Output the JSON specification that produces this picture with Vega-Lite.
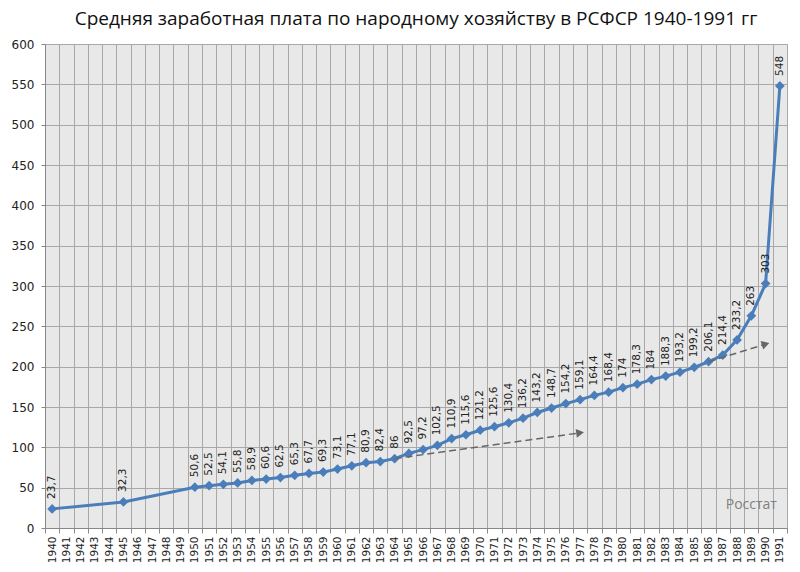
{
  "$schema": "https://vega.github.io/schema/vega-lite/v6.json",
  "autosize": {"type": "none"},
  "padding": {"left": 45, "top": 44, "right": 13, "bottom": 44},
  "width": 742,
  "height": 484,
  "title": {
    "text": "Средняя заработная плата по народному хозяйству в РСФСР 1940-1991 гг",
    "font": "Open Sans",
    "fontSize": 19,
    "fontWeight": "normal",
    "color": "#111111",
    "anchor": "middle",
    "offset": 9
  },
  "data": {
    "values": [
      {"year": 1940, "wage": 23.7},
      {"year": 1945, "wage": 32.3},
      {"year": 1950, "wage": 50.6},
      {"year": 1951, "wage": 52.5},
      {"year": 1952, "wage": 54.1},
      {"year": 1953, "wage": 55.8},
      {"year": 1954, "wage": 58.9},
      {"year": 1955, "wage": 60.6},
      {"year": 1956, "wage": 62.5},
      {"year": 1957, "wage": 65.3},
      {"year": 1958, "wage": 67.7},
      {"year": 1959, "wage": 69.3},
      {"year": 1960, "wage": 73.1},
      {"year": 1961, "wage": 77.1},
      {"year": 1962, "wage": 80.9},
      {"year": 1963, "wage": 82.4},
      {"year": 1964, "wage": 86},
      {"year": 1965, "wage": 92.5},
      {"year": 1966, "wage": 97.2},
      {"year": 1967, "wage": 102.5},
      {"year": 1968, "wage": 110.9},
      {"year": 1969, "wage": 115.6},
      {"year": 1970, "wage": 121.2},
      {"year": 1971, "wage": 125.6},
      {"year": 1972, "wage": 130.4},
      {"year": 1973, "wage": 136.2},
      {"year": 1974, "wage": 143.2},
      {"year": 1975, "wage": 148.7},
      {"year": 1976, "wage": 154.2},
      {"year": 1977, "wage": 159.1},
      {"year": 1978, "wage": 164.4},
      {"year": 1979, "wage": 168.4},
      {"year": 1980, "wage": 174},
      {"year": 1981, "wage": 178.3},
      {"year": 1982, "wage": 184},
      {"year": 1983, "wage": 188.3},
      {"year": 1984, "wage": 193.2},
      {"year": 1985, "wage": 199.2},
      {"year": 1986, "wage": 206.1},
      {"year": 1987, "wage": 214.4},
      {"year": 1988, "wage": 233.2},
      {"year": 1989, "wage": 263},
      {"year": 1990, "wage": 303},
      {"year": 1991, "wage": 548}
    ]
  },
  "encoding": {
    "x": {
      "field": "year",
      "type": "ordinal",
      "scale": {
        "type": "band",
        "paddingInner": 0,
        "paddingOuter": 0,
        "domain": [1940, 1941, 1942, 1943, 1944, 1945, 1946, 1947, 1948, 1949,
                   1950, 1951, 1952, 1953, 1954, 1955, 1956, 1957, 1958, 1959,
                   1960, 1961, 1962, 1963, 1964, 1965, 1966, 1967, 1968, 1969,
                   1970, 1971, 1972, 1973, 1974, 1975, 1976, 1977, 1978, 1979,
                   1980, 1981, 1982, 1983, 1984, 1985, 1986, 1987, 1988, 1989,
                   1990, 1991]
      },
      "axis": {
        "title": null,
        "labelAngle": 270,
        "labelAlign": "right",
        "labelBaseline": "middle",
        "labelFont": "DejaVu Sans",
        "labelFontSize": 10.5,
        "labelColor": "#222222",
        "labelPadding": 3,
        "tickBand": "extent",
        "tickSize": 5,
        "tickColor": "#888888",
        "domainColor": "#888888",
        "grid": true,
        "gridColor": "#a8a8a8"
      }
    },
    "y": {
      "field": "wage",
      "type": "quantitative",
      "scale": {"domain": [0, 600], "nice": false},
      "axis": {
        "title": null,
        "values": [0, 50, 100, 150, 200, 250, 300, 350, 400, 450, 500, 550, 600],
        "labelFont": "DejaVu Sans",
        "labelFontSize": 12,
        "labelColor": "#222222",
        "labelPadding": 7,
        "tickSize": 4,
        "tickColor": "#888888",
        "domainColor": "#888888",
        "grid": true,
        "gridColor": "#a8a8a8"
      }
    }
  },
  "layer": [
    {
      "mark": {"type": "line", "color": "#4a7ebb", "strokeWidth": 3}
    },
    {
      "mark": {"type": "point", "shape": "diamond", "filled": true, "opacity": 1, "color": "#4a7ebb", "size": 95}
    },
    {
      "mark": {
        "type": "text",
        "angle": 270,
        "align": "left",
        "baseline": "middle",
        "dx": 10,
        "font": "DejaVu Sans",
        "fontSize": 10.5,
        "color": "#222222"
      },
      "encoding": {
        "text": {"field": "wage", "type": "quantitative", "format": ".1~f"}
      }
    },
    {
      "data": {
        "values": [
          {"year": 1964, "trend": 86, "arrow": "a"},
          {"year": 1977, "trend": 118, "arrow": "a"},
          {"year": 1986, "trend": 206.1, "arrow": "b"},
          {"year": 1990, "trend": 228, "arrow": "b"}
        ]
      },
      "layer": [
        {
          "mark": {"type": "line", "color": "#666666", "strokeWidth": 1.5, "strokeDash": [7, 4]},
          "encoding": {
            "y": {"field": "trend", "type": "quantitative"},
            "detail": {"field": "arrow"}
          }
        },
        {
          "transform": [{"filter": "datum.arrow === 'a' && datum.year === 1977"}],
          "mark": {"type": "point", "shape": "triangle-right", "filled": true, "opacity": 1, "color": "#666666", "size": 80, "angle": -8},
          "encoding": {"y": {"field": "trend", "type": "quantitative"}}
        },
        {
          "transform": [{"filter": "datum.arrow === 'b' && datum.year === 1990"}],
          "mark": {"type": "point", "shape": "triangle-right", "filled": true, "opacity": 1, "color": "#666666", "size": 80, "angle": -17},
          "encoding": {"y": {"field": "trend", "type": "quantitative"}}
        }
      ]
    },
    {
      "data": {"values": [{"year": 1989, "pos": 28, "note": "Росстат"}]},
      "mark": {"type": "text", "font": "Open Sans", "fontSize": 14, "color": "#808080", "align": "center", "baseline": "middle"},
      "encoding": {
        "y": {"field": "pos", "type": "quantitative"},
        "text": {"field": "note"}
      }
    }
  ],
  "config": {
    "locale": {
      "number": {"decimal": ",", "thousands": " ", "grouping": [3], "currency": ["", ""]}
    },
    "view": {"fill": "#e8e8e8", "stroke": "#a8a8a8"},
    "background": "white"
  }
}
